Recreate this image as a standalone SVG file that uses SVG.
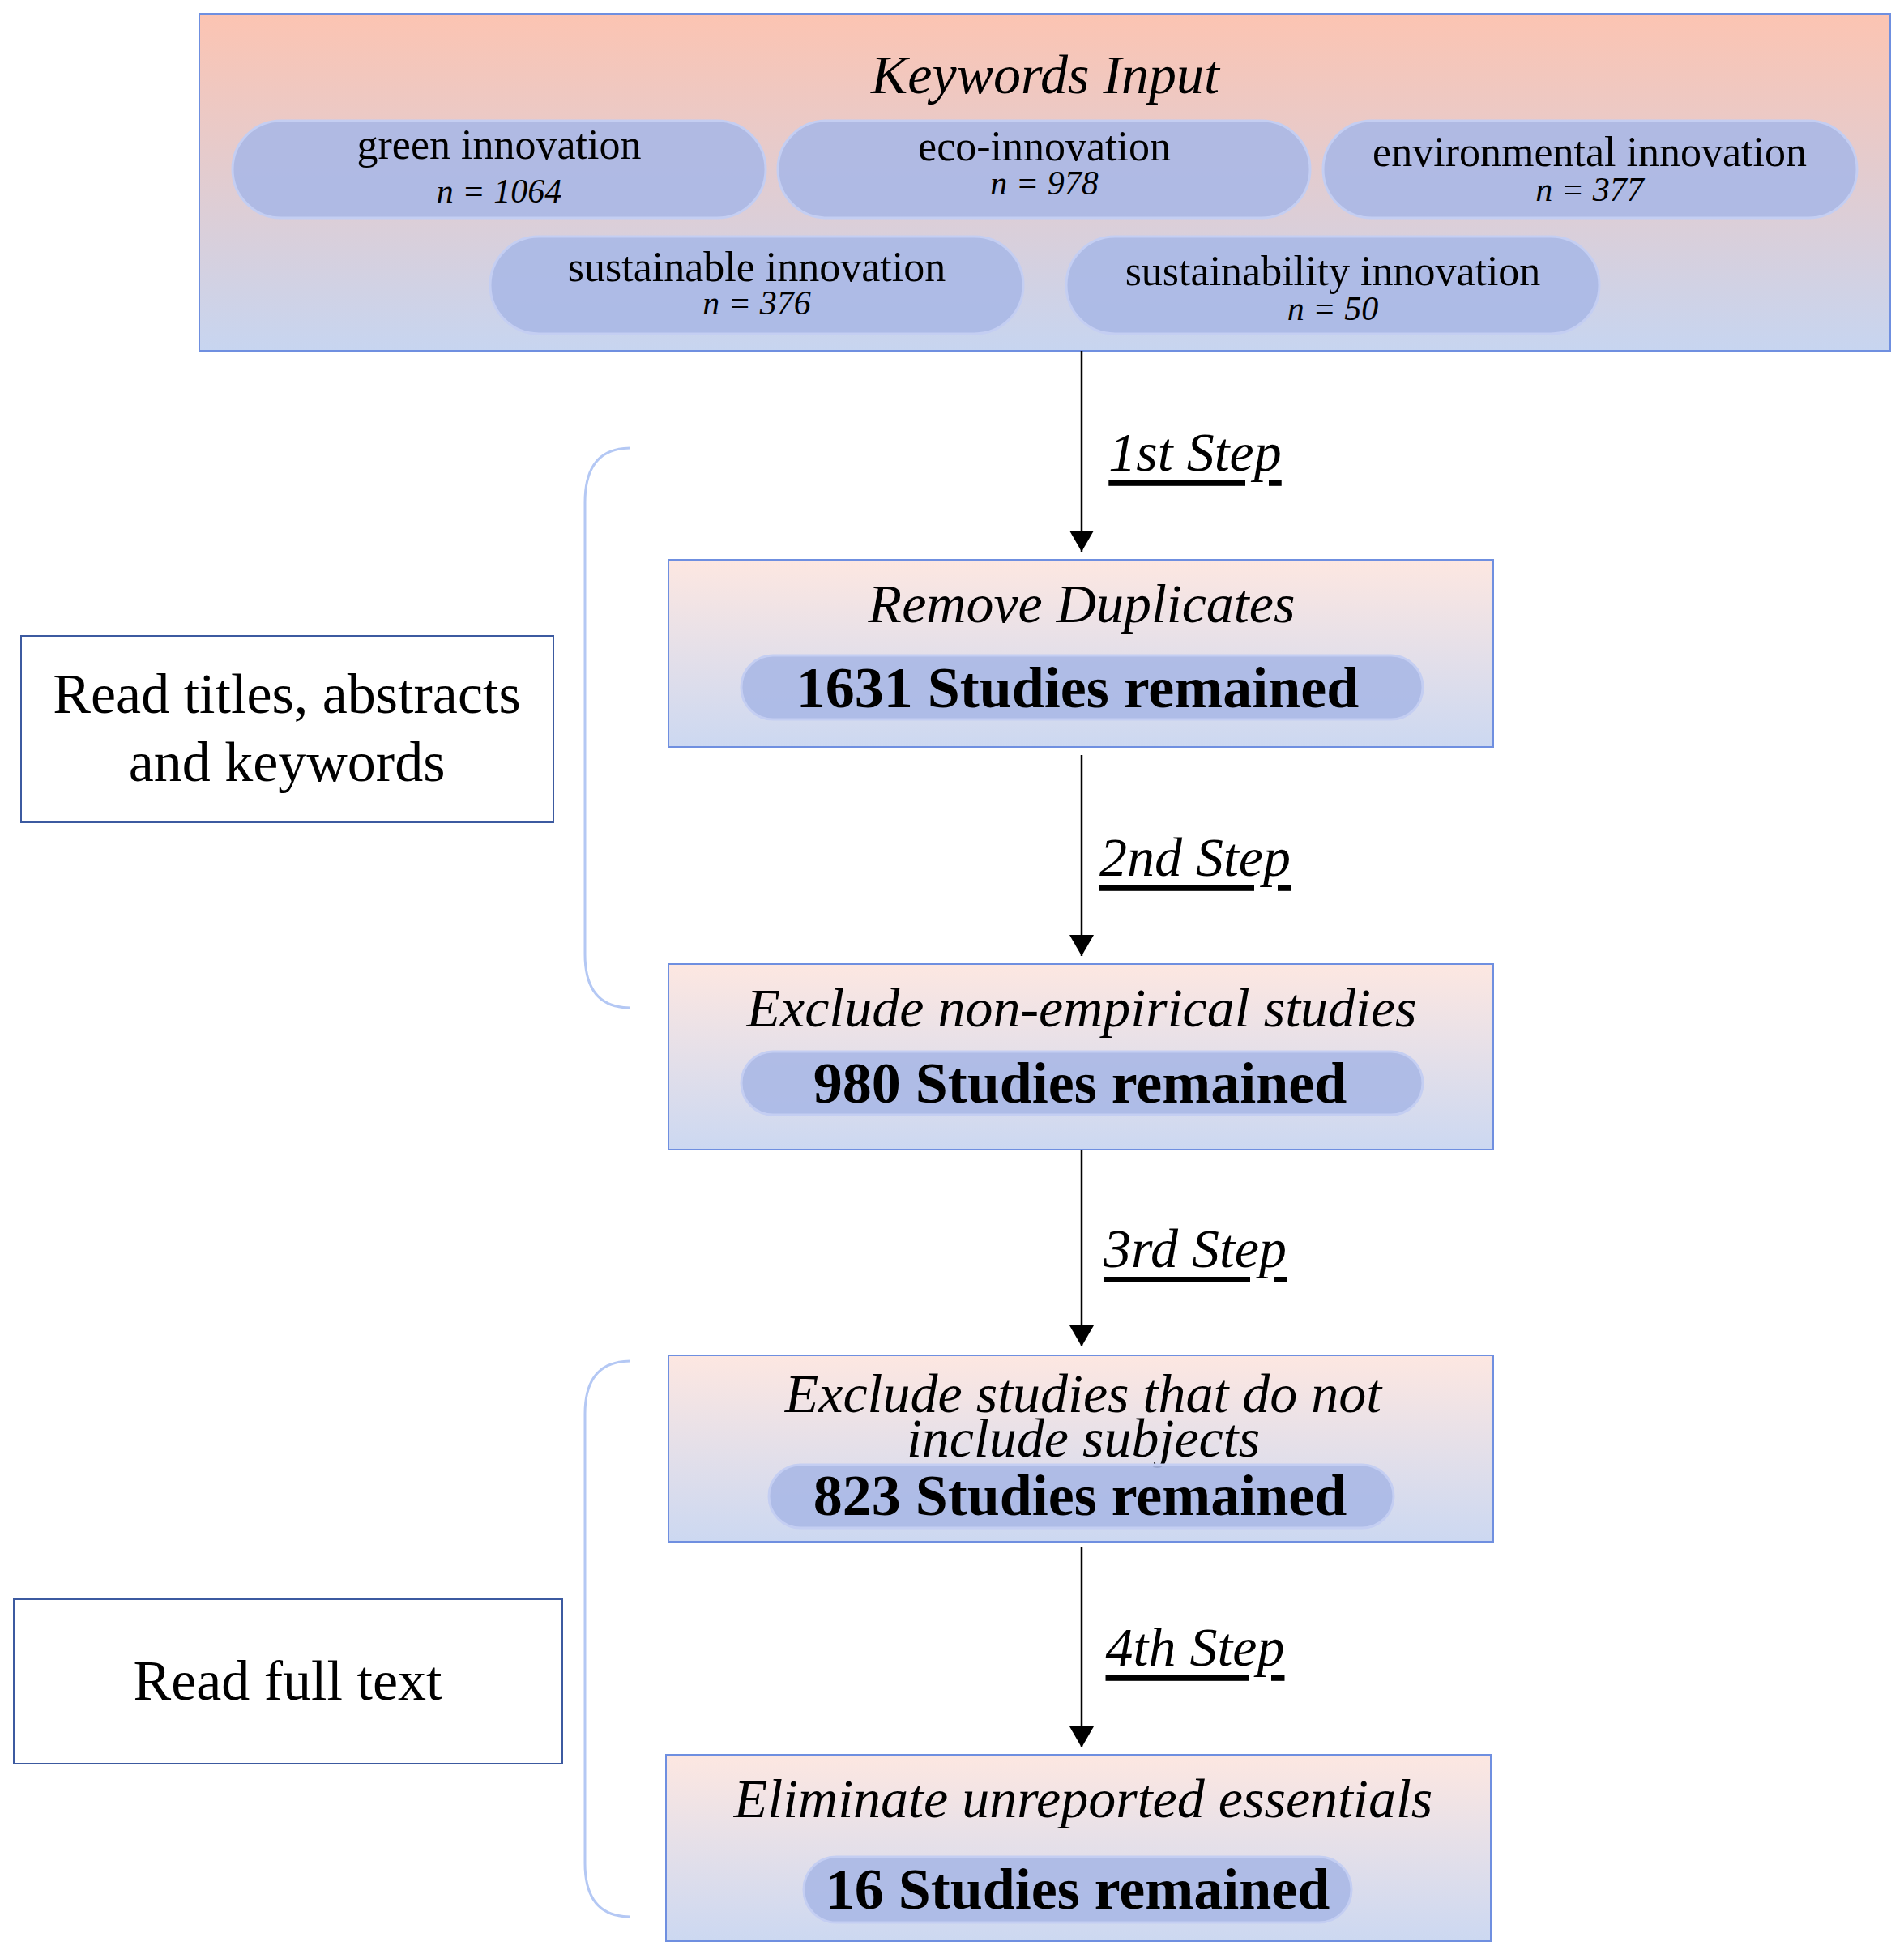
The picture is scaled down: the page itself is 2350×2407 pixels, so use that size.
<svg xmlns="http://www.w3.org/2000/svg" width="2350" height="2407" viewBox="0 0 2350 2407">
<style>
text{font-family:"Liberation Serif","DejaVu Serif",serif;fill:#000;text-anchor:middle;dominant-baseline:central}
.title{font-size:68px;font-style:italic}
.pl{font-size:52px}
.n{font-size:42px;font-style:italic}
.bold{font-size:72px;font-weight:bold}
.step{font-size:68px;font-style:italic;text-decoration:underline}
.side{font-size:70px}
.box{stroke:#6f8fe0;stroke-width:2}
.pill{fill:#aab8e6;fill-opacity:0.9;stroke:#c4cef2;stroke-width:3}
.brace{fill:none;stroke:#b4c8f4;stroke-width:3}
.conn{stroke:#000;stroke-width:2.5;marker-end:url(#ah)}
</style>
<defs>
<linearGradient id="gTop" x1="0" y1="0" x2="0" y2="1"><stop offset="0" stop-color="#fcc4b2"/><stop offset="1" stop-color="#c7d5f0"/></linearGradient>
<linearGradient id="gStep" x1="0" y1="0" x2="0" y2="1"><stop offset="0" stop-color="#fde7e1"/><stop offset="1" stop-color="#ccd8f1"/></linearGradient>
<marker id="ah" markerWidth="26" markerHeight="30" refX="10" refY="5" orient="auto" markerUnits="userSpaceOnUse" viewBox="0 0 10 10" preserveAspectRatio="none"><path d="M0,0 L10,5 L0,10 z" fill="#000"/></marker>
</defs>
<rect width="2350" height="2407" fill="#fff"/>
<g id="keywords">
<rect class="box" x="246" y="17" width="2087" height="416" fill="url(#gTop)"/>
<text class="title" x="1290" y="92">Keywords Input</text>
<rect class="pill" x="287" y="149" width="658" height="120" rx="60"/>
<text class="pl" x="616" y="178">green innovation</text><text class="n" x="616" y="236">n = 1064</text>
<rect class="pill" x="960" y="149" width="657" height="120" rx="60"/>
<text class="pl" x="1289" y="180">eco-innovation</text><text class="n" x="1289" y="226">n = 978</text>
<rect class="pill" x="1633" y="149" width="659" height="120" rx="60"/>
<text class="pl" x="1962" y="187">environmental innovation</text><text class="n" x="1962" y="234">n = 377</text>
<rect class="pill" x="605" y="292" width="658" height="120" rx="60"/>
<text class="pl" x="934" y="329">sustainable innovation</text><text class="n" x="934" y="374">n = 376</text>
<rect class="pill" x="1316" y="292" width="658" height="120" rx="60"/>
<text class="pl" x="1645" y="334">sustainability innovation</text><text class="n" x="1645" y="381">n = 50</text>
</g>
<g id="step1"><rect class="box" x="825" y="691" width="1018" height="231" fill="url(#gStep)"/>
<text class="title" x="1335" y="745">Remove Duplicates</text>
<rect class="pill" x="915" y="809" width="841" height="79" rx="39"/><text class="bold" x="1330" y="849">1631 Studies remained</text></g>
<g id="step2"><rect class="box" x="825" y="1190" width="1018" height="229" fill="url(#gStep)"/>
<text class="title" x="1335" y="1244">Exclude non-empirical studies</text>
<rect class="pill" x="915" y="1298" width="841" height="78" rx="39"/><text class="bold" x="1333" y="1337">980 Studies remained</text></g>
<g id="step3"><rect class="box" x="825" y="1673" width="1018" height="230" fill="url(#gStep)"/>
<text class="title" x="1337" y="1720">Exclude studies that do not</text>
<text class="title" x="1337" y="1775">include subjects</text>
<rect class="pill" x="949" y="1808" width="771" height="78" rx="39"/><text class="bold" x="1333" y="1846">823 Studies remained</text></g>
<g id="step4"><rect class="box" x="822" y="2166" width="1018" height="230" fill="url(#gStep)"/>
<text class="title" x="1337" y="2220">Eliminate unreported essentials</text>
<rect class="pill" x="992" y="2292" width="676" height="81" rx="40"/><text class="bold" x="1330" y="2332">16 Studies remained</text></g>
<g id="side1"><rect x="26" y="785" width="657" height="230" fill="#fff" stroke="#3c5aa0" stroke-width="2"/>
<text class="side" x="354" y="856">Read titles, abstracts</text><text class="side" x="354" y="940">and keywords</text></g>
<g id="side2"><rect x="17" y="1974" width="677" height="203" fill="#fff" stroke="#3c5aa0" stroke-width="2"/>
<text class="side" x="355" y="2074">Read full text</text></g>
<g id="connectors">
<line class="conn" x1="1335" y1="433" x2="1335" y2="681"/>
<line class="conn" x1="1335" y1="932" x2="1335" y2="1180"/>
<line class="conn" x1="1335" y1="1419" x2="1335" y2="1662"/>
<line class="conn" x1="1335" y1="1909" x2="1335" y2="2157"/>
<text class="step" x="1475" y="558">1st Step</text>
<text class="step" x="1475" y="1058">2nd Step</text>
<text class="step" x="1475" y="1541">3rd Step</text>
<text class="step" x="1475" y="2033">4th Step</text>
<path class="brace" d="M778,553 Q722,553 722,620 L722,1178 Q722,1244 778,1244"/>
<path class="brace" d="M778,1680 Q722,1680 722,1745 L722,2300 Q722,2366 778,2366"/>
</g>
</svg>
